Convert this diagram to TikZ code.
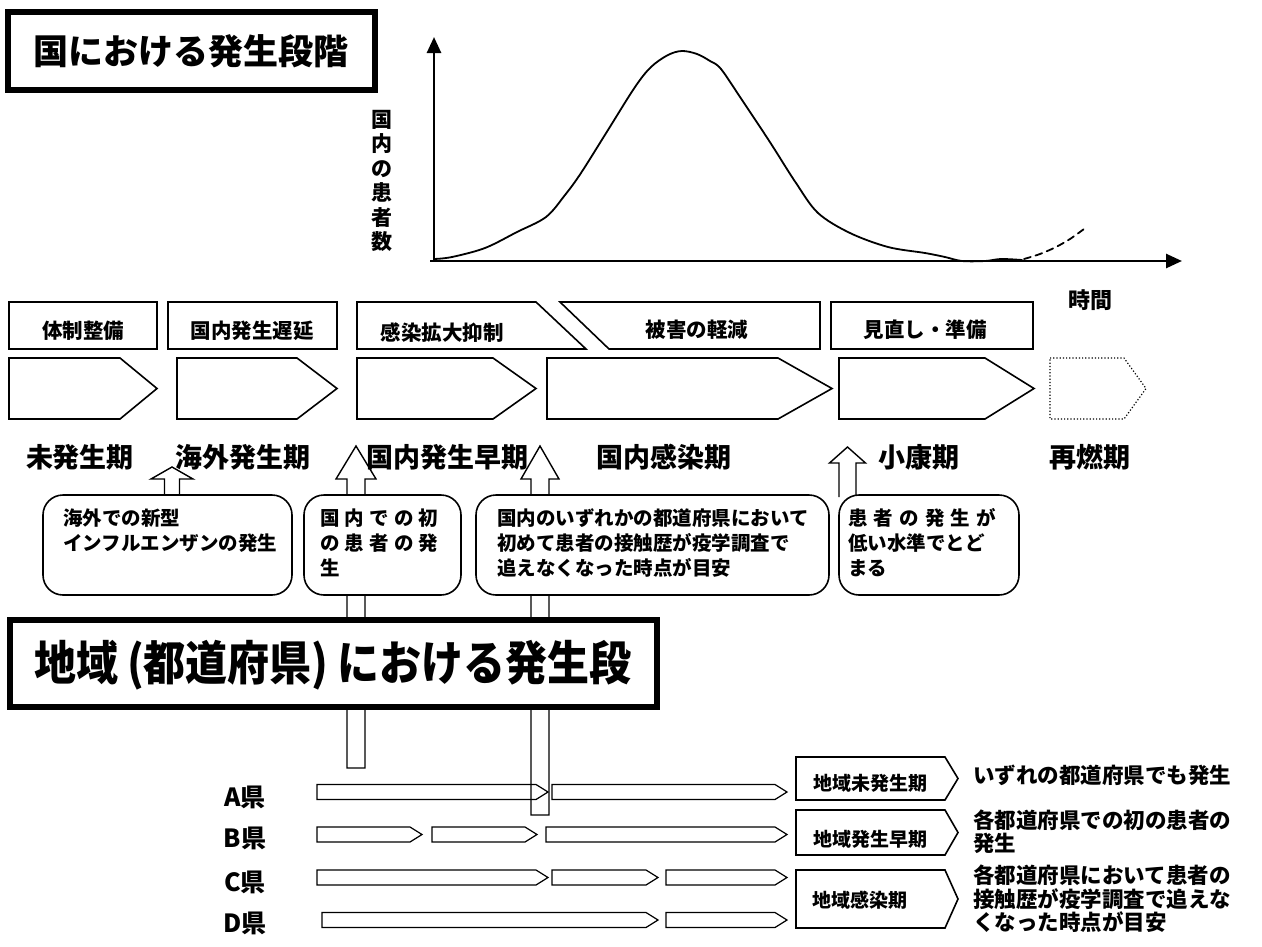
\documentclass[tikz,border=0pt]{standalone}
\usepackage{fontspec}
\usepackage{graphicx}
\setmainfont{Noto Sans CJK JP}
\usetikzlibrary{arrows.meta}
\newcommand\pentag[4][plain]{\draw[#1] (#2,358) -- (#3,358) -- (#4,388.5) -- (#3,419) -- (#2,419) -- cycle;}
\newcommand\prefarrow[3]{\draw[thinl] (#1,#3-7.5) -- (#2-12,#3-7.5) -- (#2,#3) -- (#2-12,#3+7.5) -- (#1,#3+7.5) -- cycle;}
\newcommand\regbox[2]{\draw[plain,fill=white] (796,#1) -- (945,#1) -- (958,{(#1+#2)/2}) -- (945,#2) -- (796,#2) -- cycle;}
\begin{document}
\begin{tikzpicture}[x=1pt,y=-1pt,
  T/.style={font=\bfseries\fontsize{#1}{#1}\selectfont, inner sep=0pt},
  ML/.style 2 args={font=\bfseries\fontsize{#1}{#2}\selectfont, inner sep=0pt, align=left},
  thickbox/.style={draw, line width=5.5pt, fill=white},
  plain/.style={draw, line width=1.6pt, line join=miter},
  dotbox/.style={draw, line width=1.2pt, dotted},
  barrow/.style={draw, line width=1.4pt, fill=white, line join=miter},
  callout/.style={draw, line width=1.6pt, fill=white, rounded corners=20pt},
  axisline/.style={line width=2.6pt, -{Triangle[length=16pt,width=14pt]}},
  thinl/.style={draw, line width=1.2pt, line join=miter},
  curve/.style={line width=1.8pt, line join=round, line cap=round},
]
\fill[white] (0,0) rectangle (1262,946);
\useasboundingbox (0,0) rectangle (1262,946);

% ---------- title 1 ----------
\node[thickbox, minimum width=367pt, minimum height=78pt, T=35] (title1) at (191.5,51) {国における発生段階};

% ---------- graph ----------
\coordinate (O) at (434,261);
\coordinate (ytip) at (434,37);
\coordinate (xstart) at (430,261);
\coordinate (xtip) at (1182,261);
\draw[axisline] (O) -- (ytip);
\draw[axisline] (xstart) -- (xtip);
\node[font=\bfseries\fontsize{21}{24.5}\selectfont, inner sep=0pt, align=center] (ylab) at (382,181) {国\\内\\の\\患\\者\\数};
\draw[curve] plot[smooth, tension=0.55] coordinates {(434,259) (452,257) (485,248) (517,232) (546,217) (565,195) (581,173) (608,130) (635,87) (651,67) (668,55) (682,51) (697,54) (710,61) (721,69) (742,100) (764,133) (775,150) (796,183) (818,213) (850,233) (888,247) (925,253) (945,257) (962,261) (985,261) (1001,259) (1022,260)};
\draw[curve, dashed, dash pattern=on 7pt off 5pt] plot[smooth, tension=0.55] coordinates {(1024,259) (1040,254) (1056,247) (1070,239) (1084,229)};
\node[T=22] (time) at (1090,300) {時間};

% ---------- row 1 ----------
\draw[plain] (9,302) rectangle (157,349);
\draw[plain] (168,302) rectangle (337,349);
\draw[plain] (357,302) -- (536,302) -- (586,349) -- (357,349) -- cycle;
\draw[plain] (560,302) -- (820,302) -- (820,349) -- (609,349) -- cycle;
\draw[plain] (831,302) rectangle (1033,349);
\node[T=20.5] (r1a) at (83,331) {体制整備};
\node[T=20.5] (r1b) at (252,331) {国内発生遅延};
\node[T=20.5] (r1c) at (442,333) {感染拡大抑制};
\node[T=20.5] (r1d) at (697,330) {被害の軽減};
\node[T=20.5] (r1e) at (925,330) {見直し・準備};

% ---------- row 2 ----------
\pentag{9}{120}{157}
\pentag{177}{297}{337}
\pentag{357}{493}{536}
\pentag{547}{778}{832}
\pentag{839}{985}{1034}
\pentag[dotbox]{1050}{1124}{1146}

% ---------- block arrows ----------
\draw[barrow] (347,768) -- (347,479) -- (336,479) -- (356,446) -- (376,479) -- (365,479) -- (365,768) -- cycle;
\draw[barrow] (531,815) -- (531,479) -- (521,479) -- (540,446) -- (559,479) -- (549,479) -- (549,815) -- cycle;
\draw[barrow] (164.5,496) -- (164.5,479) -- (151,479) -- (172,467) -- (193,479) -- (179.5,479) -- (179.5,496);
\draw[barrow] (839,497) -- (839,463) -- (829.5,463) -- (847.5,447) -- (865.5,463) -- (856,463) -- (856,497);

% ---------- row 3 labels ----------
\node[T=27] (p1) at (80,457) {未発生期};
\node[T=27] (p2) at (243,457) {海外発生期};
\node[T=27] (p3) at (447,457) {国内発生早期};
\node[T=27] (p4) at (664,457) {国内感染期};
\node[T=27] (p5) at (919,457) {小康期};
\node[T=27] (p6) at (1090,457) {再燃期};

% ---------- callouts ----------
\draw[callout] (43,495) rectangle (292,595);
\draw[callout] (304,495) rectangle (461,595);
\draw[callout] (476,495) rectangle (829,595);
\draw[callout] (839,495) rectangle (1019,595);
\node[ML={19.5}{25}, anchor=west] (c1t) at (63,530.5) {海外での新型\\インフルエンザンの発生};
\node[ML={19.5}{25}, anchor=west] (c2t) at (320,543) {\hbox to 118pt{国\hfill 内\hfill で\hfill の\hfill 初}\\\hbox to 118pt{の\hfill 患\hfill 者\hfill の\hfill 発}\\生};
\node[ML={19.5}{25}, anchor=west] (c3t) at (497,543) {国内のいずれかの都道府県において\\初めて患者の接触歴が疫学調査で\\追えなくなった時点が目安};
\node[ML={19.5}{25}, anchor=west] (c4t) at (848,543) {\hbox to 148pt{患\hfill 者\hfill の\hfill 発\hfill 生\hfill が}\\低い水準でとど\\まる};

% ---------- title 2 ----------
\draw[thickbox, line width=6pt] (10,620) rectangle (657,707);
\node[inner sep=0pt, font=\bfseries\fontsize{42}{42}\selectfont] (title2) at (333,665) {\scalebox{1}[1.12]{地域\kern9pt(都道府県)\kern9pt における発生段}};

% ---------- prefectures ----------
\node[T=25] (pa) at (245,797) {A県};
\node[T=25] (pb) at (245,838) {B県};
\node[T=25] (pc) at (245,882) {C県};
\node[T=25] (pd) at (245,923) {D県};
\prefarrow{317}{548}{792}
\prefarrow{552}{787}{792}
\prefarrow{317}{422}{834.5}
\prefarrow{432}{537}{834.5}
\prefarrow{546}{787}{834.5}
\prefarrow{317}{548}{877.5}
\prefarrow{552}{658}{877.5}
\prefarrow{666}{787}{877.5}
\prefarrow{322}{658}{920}
\prefarrow{666}{787}{920}

% ---------- regional phases ----------
\regbox{757}{800}
\regbox{810}{855}
\regbox{870}{928}
\node[T=19] (ra) at (870,783) {地域未発生期};
\node[T=19] (rb) at (870,839) {地域発生早期};
\node[T=19] (rc) at (860,900) {地域感染期};
\node[ML={21.5}{23.5}, anchor=west] (da) at (973,775) {いずれの都道府県でも発生};
\node[ML={21.5}{23.5}, anchor=west] (db) at (973,831.5) {各都道府県での初の患者の\\発生};
\node[ML={21.5}{23.5}, anchor=west] (dc) at (973,899) {各都道府県において患者の\\接触歴が疫学調査で追えな\\くなった時点が目安};
\end{tikzpicture}
\end{document}
